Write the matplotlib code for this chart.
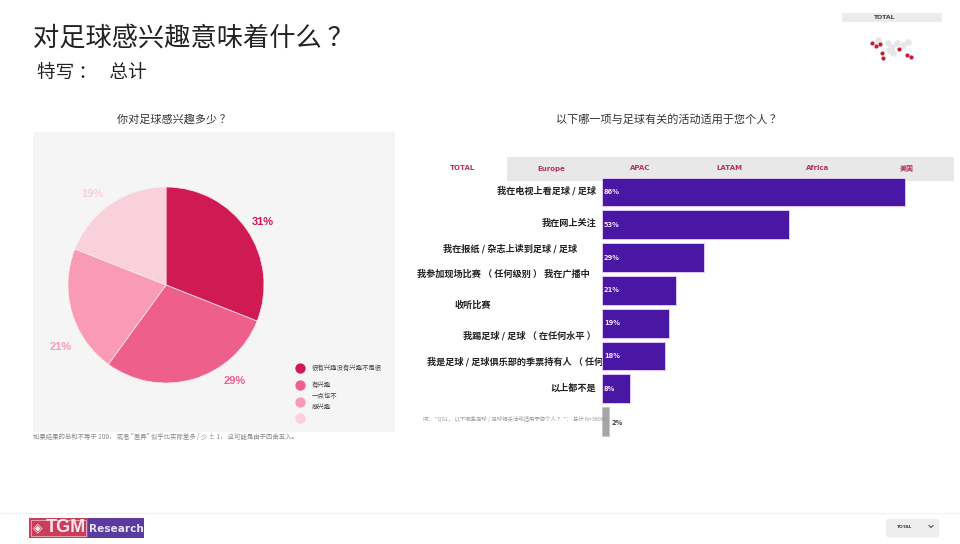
import matplotlib
matplotlib.use("Agg")
import matplotlib.pyplot as plt
from matplotlib.patches import Rectangle, FancyBboxPatch

plt.rcParams['font.family'] = ['Noto Sans CJK SC', 'DejaVu Sans']

W, H = 960, 544

# ---- data ----
pie_labels = ['很有兴趣没有兴趣不是很', '有兴趣', '一点也不\n感兴趣', '']
pie_values = [31, 29, 21, 19]
pie_colors = ['#d01a54', '#ee5f8b', '#f99bb6', '#f9d1dd']
pie_text_xy = [(263, 222), (235, 381), (61, 347), (92, 194)]
legend_y = [368, 385, 402, 418]

bar_values = [86, 53, 29, 21, 19, 18, 8, 2]
bar_colors = ['#4a17a5'] * 7 + ['#a6a6a6']
bar_texts = ['我在电视上看足球 / 足球', '我在网上关注', '我在报纸 / 杂志上读到足球 / 足球',
             '我参加现场比赛 （ 任何级别 ） 我在广播中', '收听比赛',
             '我踢足球 / 足球 （ 在任何水平 ）', '我是足球 / 足球俱乐部的季票持有人 （ 任何', '以上都不是']
bar_text_right = [596, 596, 577, 590, 491, 596, 603, 596]
bar_text_y = [191, 223, 249, 274, 305, 336, 362, 388]

tab_names = ['TOTAL', 'Europe', 'APAC', 'LATAM', 'Africa', '美国']
tab_x = [462, 551, 640, 729, 818, 907]

map_red_x = [872, 876, 880, 882, 883, 907, 911, 899]
map_red_y = [43, 46, 44, 53, 58, 55, 57, 49]
map_grey_x = [878, 888, 892, 897, 903, 908, 893, 889]
map_grey_y = [40, 43, 47, 43, 45, 42, 53, 50]

# ---- figure & overlay in pixel coordinates ----
fig = plt.figure(figsize=(W / 100, H / 100), dpi=100, facecolor='white')
ov = fig.add_axes([0, 0, 1, 1], zorder=0)
ov.set_xlim(0, W)
ov.set_ylim(H, 0)
ov.axis('off')

LATIN = ['DejaVu Sans', 'Noto Sans CJK SC']

def rect(ax, x0, y0, x1, y1, c, z=1):
    ax.add_patch(Rectangle((x0, y0), x1 - x0, y1 - y0, fc=c, ec='none', zorder=z))

def axes_px(x0, y0, x1, y1, z):
    return fig.add_axes([x0 / W, 1 - y1 / H, (x1 - x0) / W, (y1 - y0) / H], zorder=z)

# titles
ov.text(33, 38.5, '对足球感兴趣意味着什么 ？', fontsize=18.9, color='#222222', va='center', ha='left')
ov.text(37, 72.5, '特写 ：   总计', fontsize=13.4, color='#222222', va='center', ha='left')
ov.text(173.5, 119, '你对足球感兴趣多少 ？', fontsize=8, color='#333333', va='center', ha='center')
ov.text(668.5, 119, '以下哪一项与足球有关的活动适用于您个人 ？', fontsize=8, color='#333333', va='center', ha='center')

# panel behind pie
rect(ov, 33, 132, 395, 432, '#f5f5f5')

# pie
pax = axes_px(68, 187, 264, 383, 2)
pax.pie(pie_values, colors=pie_colors, startangle=90, counterclock=False, radius=1,
        wedgeprops=dict(edgecolor='#fbeef2', linewidth=0.5))
pax.set_xlim(-1, 1)
pax.set_ylim(-1, 1)
pax.patch.set_alpha(0)

top = fig.add_axes([0, 0, 1, 1], zorder=5)
top.set_xlim(0, W)
top.set_ylim(H, 0)
top.axis('off')
top.patch.set_alpha(0)

for v, c, (x, y) in zip(pie_values, pie_colors, pie_text_xy):
    top.text(x, y, f'{v}%', color=c, fontsize=8, fontweight='bold', ha='center', va='center',
             family='Liberation Sans')

# legend
for y, c, t in zip(legend_y, pie_colors, pie_labels):
    ov.scatter([300], [y], s=55, color=c, linewidths=0, zorder=3)
    if t:
        ov.text(312, y, t, fontsize=4.6, color='#444444', va='center', ha='left', linespacing=1.6, zorder=3)

ov.text(33, 436.5, '如果结果的总和不等于 100， 或者 "差异" 似乎比实际差多 / 少 ± 1， 这可能是由于四舍五入。',
        fontsize=4.6, color='#888888', va='center', ha='left')

# tabs
rect(ov, 420, 157, 954, 181, '#e8e8e8')
rect(ov, 420, 157, 507, 182, '#ffffff', z=2)
for n, x in zip(tab_names, tab_x):
    ov.text(x, 168.5, n, fontsize=5, fontweight='bold', color='#b2345f', ha='center', va='center', zorder=3,
            family=LATIN)

# row labels (beneath bars)
for t, x, y in zip(bar_texts, bar_text_right, bar_text_y):
    ov.text(x, y, t, fontsize=6.6, fontweight='bold', color='#222222', ha='right', va='center', zorder=3)

# bars
bax = axes_px(602, 176, 960, 438, 3)
bax.patch.set_alpha(0)
pos = list(range(len(bar_values)))
bars = bax.barh(pos, bar_values, height=0.88, color=bar_colors, linewidth=0.7)
for b, c in zip(bars, bar_colors):
    b.set_edgecolor('#e3c6f3' if c != '#a6a6a6' else '#c8c8c8')
bax.set_xlim(0, 358 / 3.52)
bax.set_ylim(7.5, -0.488)
bax.axis('off')
for i, v in enumerate(bar_values):
    if i < 7:
        bax.text(0.5, i, f'{v}%', color='#f0e0fa', fontsize=4.8, fontweight='bold', va='center', ha='left',
                 family='DejaVu Sans')
    else:
        bax.text(2.6, i + 0.03, f'{v}%', color='#444444', fontsize=4.8, fontweight='bold', va='center', ha='left',
                 family='DejaVu Sans')

top.text(423, 419, '问： "QS1， 以下哪些足球 / 足球相关活动适用于您个人 ？ "： 总计 N=38000',
         fontsize=3.9, color='#999999', va='center', ha='left')

# top right region box
rect(ov, 842, 13, 942, 22, '#ececec')
ov.text(885, 17.5, 'TOTAL', fontsize=4.4, fontweight='bold', color='#444444', ha='center', va='center', zorder=3,
        family=LATIN)
ov.scatter(map_grey_x, map_grey_y, s=22, color='#e6e6e6', linewidths=0, zorder=2)
ov.scatter(map_red_x, map_red_y, s=9, color='#bf2038', linewidths=0, zorder=3)

# footer
ov.plot([0, W], [513, 513], color='#f1f1f1', lw=0.8)
rect(ov, 29, 518, 88, 538, '#cc3d5c')
rect(ov, 88, 518, 144, 538, '#5a3c9e')
ov.add_patch(Rectangle((31, 520), 55, 16, fc='none', ec='#f0c8d2', lw=0.5, zorder=3))
ov.text(38, 528, '◈', fontsize=9, color='#f8e8ec', ha='center', va='center', zorder=3, family='DejaVu Sans')
ov.text(66, 528, 'TGM', fontsize=13, fontweight='bold', color='#f8e8ec', ha='center', va='center', zorder=3,
        family='Liberation Sans')
ov.text(116, 528.5, 'Research', fontsize=7.6, fontweight='bold', color='#e6e2f2', ha='center', va='center', zorder=3,
        family='DejaVu Sans')
ov.add_patch(FancyBboxPatch((887, 520), 51, 16, boxstyle='round,pad=0,rounding_size=2', fc='#eeeeee', ec='#eeeeee', lw=2))
ov.text(905, 526.5, 'TOTAL', fontsize=3.2, fontweight='bold', color='#444444', ha='center', va='center', zorder=3,
        family=LATIN)
ov.plot([929, 931, 933], [525.5, 527.5, 525.5], color='#555555', lw=0.8, zorder=3)

fig.savefig('out.png', dpi=100, facecolor='white')
